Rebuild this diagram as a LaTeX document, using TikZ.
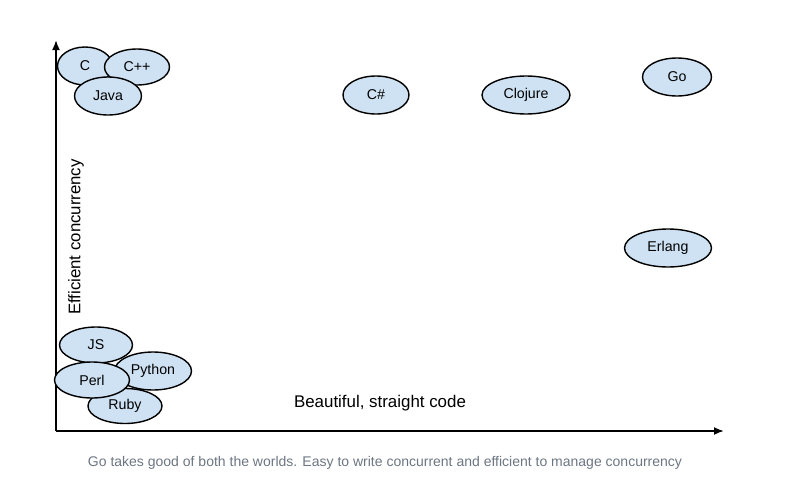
\documentclass[tikz,border=0pt]{standalone}
\usepackage{fontspec}
\setmainfont{Liberation Sans}
\usetikzlibrary{shapes.geometric,arrows.meta}
\definecolor{langfill}{RGB}{207,226,243}
\definecolor{captiongray}{RGB}{108,118,130}
\begin{document}
\begin{tikzpicture}[x=1pt,y=-1pt,every path/.style={>={Latex[length=10pt,width=8pt]}},
	lang/.style={ellipse,draw,line width=1.4pt,fill=langfill,inner sep=0pt,minimum height=38pt,font=\fontsize{14.2}{17}\selectfont}]
	\useasboundingbox (0,0) rectangle (785,501);
	
	% draw axes
	\coordinate (origin) at (56,431);
	\coordinate (xend) at (724,431);
	\coordinate (yend) at (56,40);
	\draw[->,line width=1.8pt] (origin) to (xend);
	\draw[->,line width=1.8pt] (origin) to (yend);
	
	% axis labels
	\node (xlabel) at (380,403) {\fontsize{16.9}{20}\selectfont Beautiful, straight code};
	\node (ylabel) at (76,237) [rotate=90] {\fontsize{16.8}{20}\selectfont Efficient concurrency};
	
	% draw top left group
	\node (c) at (85,66) [lang,minimum width=55pt] {C};
	\node (cpp) at (137,67) [lang,minimum width=65pt,minimum height=36pt] {C++};
	\node (java) at (108,96) [lang,minimum width=67pt] {Java};
	
	% draw top row
	\node (csharp) at (376,95) [lang,minimum width=66pt] {C\#};
	\node (clojure) at (526,95) [lang,minimum width=88pt] {Clojure};
	\node (go) at (677,77) [lang,minimum width=69pt] {Go};
	\node (erlang) at (668,248) [lang,minimum width=87pt] {Erlang};
	
	% draw bottom left group
	\node (js) at (96,345) [lang,minimum width=73pt,minimum height=36pt] {JS};
	\node (python) at (153,371) [lang,minimum width=77pt] {Python};
	\node (ruby) at (125,406) [lang,minimum width=74pt,minimum height=35pt] {Ruby};
	\node (perl) at (92,380) [lang,minimum width=75pt,minimum height=36pt] {Perl};
	
	% caption
	\node (caption) at (385,463) [text=captiongray] {\fontsize{14}{17}\selectfont Go takes good of both the worlds. Easy to write concurrent and efficient to manage concurrency};
\end{tikzpicture}
\end{document}
